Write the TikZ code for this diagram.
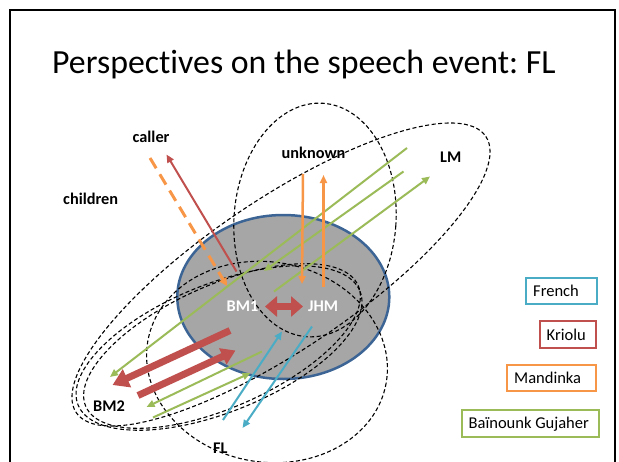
\documentclass[tikz,border=0pt]{standalone}
\usepackage{fontspec}
\setmainfont{Carlito}[Ligatures=NoCommon]
\usetikzlibrary{arrows.meta}
\definecolor{kriolu}{HTML}{C0504D}
\definecolor{mandinka}{HTML}{F79646}
\definecolor{bainounk}{HTML}{9BBB59}
\definecolor{french}{HTML}{4BACC6}
\definecolor{rimblue}{HTML}{3C6595}
\definecolor{coregray}{HTML}{A6A6A6}
\frenchspacing
\begin{document}
\begin{tikzpicture}[x=1pt,y=-1pt,
  lbl/.style={font=\fontsize{16.3}{18}\selectfont\bfseries, inner sep=0pt, anchor=base west},
  speaker/.style={lbl, text=white},
  legendtxt/.style={font=\fontsize{16.5}{19}\selectfont, inner sep=0pt, anchor=base west},
  legendbox/.style={line width=2pt, fill=white},
  zone/.style={dash pattern=on 4pt off 2.5pt, line width=1.1pt, black},
  thinarrow/.style={line width=2pt, -{Triangle[length=8pt,width=7pt]}},
  fatarrow/.style={line width=7pt, -{Triangle[length=16pt,width=19pt]}},
]
\useasboundingbox (0,0) rectangle (619,461);
\begin{scope}
\clip (0,0) rectangle (619,461);

% slide frame
\draw[line width=2pt] (9.5,475) -- (9.5,9.5) -- (615,9.5) -- (615,475);

% title
\node[font=\fontsize{33.8}{38}\selectfont, inner sep=0pt, anchor=base west] (title) at (52,73) {Perspectives on the speech event: FL};

% core participants
\draw[rimblue, fill=coregray, line width=2.5pt] (283.3,297) ellipse [x radius=106, y radius=82];

% participation zones
\draw[zone, rotate around={34:(281,274.5)}] (281,274.5) ellipse [x radius=247, y radius=75];
\draw[zone, rotate around={-4:(315,220)}] (315,220) ellipse [x radius=81, y radius=117];
\draw[zone, rotate around={22:(219,348)}] (219,348) ellipse [x radius=152, y radius=64];
\draw[zone, rotate around={24:(222,346)}] (222,346) ellipse [x radius=149, y radius=61];
\draw[zone, rotate around={-10:(267,362)}] (267,362) ellipse [x radius=121, y radius=100];

% arrow end points
\coordinate (cr1) at (236.5,271.5);  \coordinate (cr2) at (166.5,154.5);
\coordinate (cm1) at (150,158);      \coordinate (cm2) at (227,286);
\coordinate (um1) at (303,174);      \coordinate (um2) at (302,284);
\coordinate (um3) at (323.5,287);    \coordinate (um4) at (323.5,175);
\coordinate (g1a) at (407,148);      \coordinate (g1b) at (110,377);
\coordinate (g2a) at (403.5,171.5);  \coordinate (g2b) at (264,271);
\coordinate (g3a) at (274,291.5);    \coordinate (g3b) at (430,176.5);
\coordinate (g4a) at (262,351.5);    \coordinate (g4b) at (146.5,407);
\coordinate (g5a) at (153,417.5);    \coordinate (g5b) at (250.5,373);
\coordinate (r1a) at (230,330.5);    \coordinate (r1b) at (112.5,385);
\coordinate (r2a) at (138,395.5);    \coordinate (r2b) at (235.5,350.5);
\coordinate (f1a) at (223,420);      \coordinate (f1b) at (282,331.5);
\coordinate (f2a) at (312,326.5);    \coordinate (f2b) at (242.5,428);
\coordinate (dba) at (265,306.5);    \coordinate (dbb) at (303,306.5);

% Baïnounk Gujaher
\draw[thinarrow, bainounk] (g1a) -- (g1b);
\draw[thinarrow, bainounk] (g2a) -- (g2b);
\draw[thinarrow, bainounk] (g3a) -- (g3b);
\draw[thinarrow, bainounk] (g4a) -- (g4b);
\draw[thinarrow, bainounk] (g5a) -- (g5b);

% Mandinka
\draw[mandinka, line width=3pt, dash pattern=on 12pt off 7pt, -{Triangle[length=8pt,width=8pt]}] (cm1) -- (cm2);
\draw[thinarrow, mandinka, line width=2.5pt] (um1) -- (um2);
\draw[thinarrow, mandinka, line width=2.5pt] (um3) -- (um4);

% Kriolu
\draw[thinarrow, kriolu] (cr1) -- (cr2);
\draw[fatarrow, kriolu] (r1a) -- (r1b);
\draw[fatarrow, kriolu, -{Triangle[length=14pt,width=17pt]}] (r2a) -- (r2b);
\draw[kriolu, line width=7pt, {Triangle[length=12pt,width=20pt]}-{Triangle[length=12pt,width=20pt]}] (dba) -- (dbb);

% French
\draw[thinarrow, french] (f1a) -- (f1b);
\draw[thinarrow, french] (f2a) -- (f2b);

% speakers and other parties
\node[speaker] (bm1) at (226.5,311.5) {BM1};
\node[speaker] (jhm) at (308,311.5) {JHM};
\node[lbl] (bm2) at (93,411.5) {BM2};
\node[lbl] (fl) at (213,453.5) {FL};
\node[lbl] (caller) at (132.5,142.3) {caller};
\node[lbl] (children) at (63,204) {children};
\node[lbl] (unknown) at (281.5,158.5) {unknown};
\node[lbl] (lm) at (440,162.5) {LM};

% legend
\draw[legendbox, draw=french]   (526,277.5) rectangle (596.5,304);
\node[legendtxt] (lfr) at (533,296) {French};
\draw[legendbox, draw=kriolu]   (540,321) rectangle (595.5,348);
\node[legendtxt] (lkr) at (546.5,340) {Kriolu};
\draw[legendbox, draw=mandinka] (507,364.5) rectangle (595.5,391);
\node[legendtxt] (lma) at (514,383.5) {Mandinka};
\draw[legendbox, draw=bainounk] (461.5,409.5) rectangle (598.5,436.5);
\node[legendtxt] (lba) at (468.5,428.5) {Baïnounk Gujaher};
\end{scope}
\end{tikzpicture}
\end{document}
